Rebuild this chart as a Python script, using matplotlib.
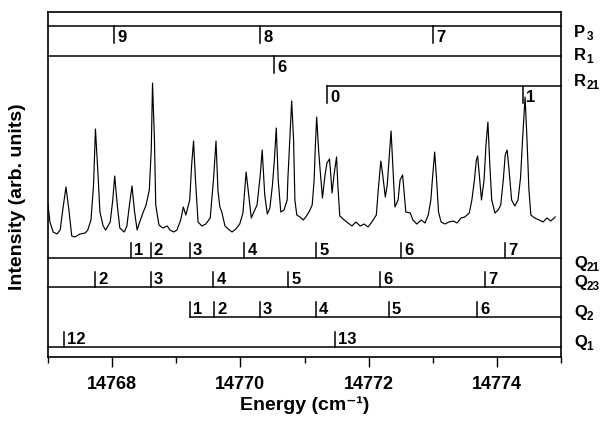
import matplotlib.pyplot as plt

plt.rcParams['font.family'] = ['Liberation Sans', 'DejaVu Sans']
plt.rcParams['font.weight'] = 'bold'

# spectrum trace (energy in cm-1, intensity arb.)
energy = [
    14767.00, 14767.03, 14767.08, 14767.14, 14767.19, 14767.23, 14767.28, 14767.33,
    14767.37, 14767.42, 14767.50, 14767.58, 14767.62, 14767.67, 14767.71, 14767.74,
    14767.78, 14767.81, 14767.86, 14767.90, 14767.97, 14768.01, 14768.04, 14768.08,
    14768.12, 14768.19, 14768.23, 14768.27, 14768.31, 14768.35, 14768.39, 14768.43,
    14768.48, 14768.53, 14768.58, 14768.61, 14768.63, 14768.66, 14768.68, 14768.73,
    14768.79, 14768.86, 14768.90, 14768.96, 14769.01, 14769.07, 14769.11, 14769.15,
    14769.21, 14769.24, 14769.27, 14769.30, 14769.34, 14769.40, 14769.46, 14769.53,
    14769.58, 14769.62, 14769.65, 14769.68, 14769.71, 14769.76, 14769.81, 14769.87,
    14769.93, 14769.99, 14770.04, 14770.09, 14770.13, 14770.17, 14770.21, 14770.26,
    14770.31, 14770.34, 14770.38, 14770.42, 14770.46, 14770.50, 14770.53, 14770.56,
    14770.59, 14770.63, 14770.68, 14770.73, 14770.74, 14770.77, 14770.80, 14770.83,
    14770.85, 14770.88, 14770.93, 14770.98, 14771.02, 14771.07, 14771.12, 14771.15,
    14771.17, 14771.19, 14771.22, 14771.24, 14771.28, 14771.32, 14771.35, 14771.39,
    14771.41, 14771.43, 14771.46, 14771.50, 14771.52, 14771.55, 14771.62, 14771.68,
    14771.74, 14771.80, 14771.87, 14771.93, 14771.99, 14772.05, 14772.12, 14772.15,
    14772.19, 14772.22, 14772.26, 14772.29, 14772.33, 14772.35, 14772.38, 14772.41,
    14772.46, 14772.49, 14772.53, 14772.55, 14772.58, 14772.65, 14772.69, 14772.75,
    14772.82, 14772.88, 14772.93, 14772.97, 14773.00, 14773.03, 14773.06, 14773.09,
    14773.13, 14773.19, 14773.25, 14773.32, 14773.38, 14773.44, 14773.50, 14773.57,
    14773.61, 14773.65, 14773.68, 14773.70, 14773.74, 14773.76, 14773.80, 14773.83,
    14773.86, 14773.89, 14773.92, 14773.97, 14774.02, 14774.06, 14774.10, 14774.13,
    14774.16, 14774.19, 14774.23, 14774.28, 14774.33, 14774.37, 14774.40, 14774.44,
    14774.47, 14774.50, 14774.53, 14774.59, 14774.66, 14774.72, 14774.78, 14774.84,
    14774.91,
]
intensity = [
    35, 18, 8, 6, 10, 30, 53, 28,
    4, 3, 6, 7, 10, 20, 55, 111,
    65, 28, 14, 10, 18, 40, 64, 35,
    12, 8, 14, 35, 54, 28, 10, 18,
    27, 35, 50, 90, 157, 100, 35, 15,
    12, 14, 10, 8, 10, 20, 33, 25,
    40, 75, 99, 60, 18, 14, 16, 22,
    60, 99, 50, 33, 28, 14, 11, 8,
    11, 16, 27, 68, 45, 22, 28, 35,
    65, 90, 45, 26, 32, 55, 80, 112,
    60, 28, 30, 40, 60, 100, 139, 100,
    40, 25, 23, 20, 23, 28, 35, 60,
    95, 123, 90, 73, 42, 65, 77, 81,
    65, 47, 65, 83, 55, 24, 20, 17,
    14, 18, 14, 16, 13, 18, 25, 50,
    79, 65, 43, 55, 90, 109, 70, 33,
    40, 60, 65, 50, 28, 27, 20, 16,
    20, 17, 25, 40, 65, 88, 60, 28,
    18, 16, 18, 19, 17, 22, 23, 27,
    40, 60, 80, 84, 55, 40, 60, 95,
    118, 75, 40, 27, 30, 35, 60, 85,
    90, 70, 40, 34, 40, 63, 100, 143,
    100, 50, 25, 22, 20, 18, 22, 19,
    23,
]

# assignment combs
p3_pos = [14768.03, 14770.31, 14773.00]
p3_lab = ['9', '8', '7']
r1_pos = [14770.53]
r1_lab = ['6']
r21_pos = [14771.35, 14774.40]
r21_lab = ['0', '1']
q21_pos = [14768.29, 14768.60, 14769.21, 14770.06, 14771.18, 14772.51, 14774.12]
q21_lab = ['1', '2', '3', '4', '5', '6', '7']
q23_pos = [14767.73, 14768.60, 14769.58, 14770.75, 14772.18, 14773.82]
q23_lab = ['2', '3', '4', '5', '6', '7']
q2_pos = [14769.21, 14769.59, 14770.30, 14771.18, 14772.31, 14773.69]
q2_lab = ['1', '2', '3', '4', '5', '6']
q1_pos = [14767.25, 14771.47]
q1_lab = ['12', '13']

branch_letters = ['P', 'R', 'R', 'Q', 'Q', 'Q', 'Q']
branch_subs = ['3', '1', '21', '21', '23', '2', '1']

xmin, xmax = 14767, 14775

fig = plt.figure(figsize=(6.05, 4.23), dpi=100)
ax = fig.add_axes([48 / 605, 1 - 357 / 423, 513 / 605, 345 / 423])
ax.plot(energy, intensity, color='black', lw=0.85)


def comb(y, pos, labels, down, start=None):
    x0 = xmin if start is None else start
    ax.plot([x0, xmax], [y, y], color='black', lw=1.1, clip_on=False)
    if down:
        y1, yt = y - 17, y - 11.5
    else:
        y1, yt = y + 15, y + 8
    for p, lab in zip(pos, labels):
        ax.plot([p, p], [y, y1], color='black', lw=1.1)
        ax.text(p + 0.05, yt, lab, fontsize=12, va='center', ha='left')


comb(214, p3_pos, p3_lab, True)
comb(184, r1_pos, r1_lab, True)
comb(154, r21_pos, r21_lab, True, start=r21_pos[0])
comb(-18, q21_pos, q21_lab, False)
comb(-47, q23_pos, q23_lab, False)
comb(-77, q2_pos, q2_lab, False, start=q2_pos[0])
comb(-107, q1_pos, q1_lab, False)

# branch names on the right
name_y = [207.5, 184.5, 158.5, -23.5, -42, -72, -102]
tr = ax.get_yaxis_transform()
for let, sub, yy in zip(branch_letters, branch_subs, name_y):
    ax.text(1.026, yy, let, transform=tr, fontsize=12, va='center', ha='left')
    ax.text(1.050, yy - 4.5, sub, transform=tr, fontsize=8.5, va='center', ha='left')

ax.set_xlim(xmin, xmax)
ax.set_ylim(-117, 228)
ax.set_yticks([])
ax.set_xticks([14768, 14770, 14772, 14774])
ax.set_xticks([14767, 14769, 14771, 14773, 14775], minor=True)
ax.tick_params(axis='x', which='major', length=7, width=1, direction='out',
               labelsize=13, pad=7)
ax.tick_params(axis='x', which='minor', length=4.5, width=1, direction='out')
for lab in ax.get_xticklabels():
    lab.set_fontweight('bold')
for s in ax.spines.values():
    s.set_linewidth(1.2)

fig.text(304.5 / 605, 1 - 405 / 423, 'Energy (cm\u207b\u00b9)', fontsize=14,
         ha='center', va='center')
fig.text(18 / 605, 1 - 197 / 423, 'Intensity (arb. units)', fontsize=14,
         rotation=90, ha='center', va='center')

fig.savefig('out.png', dpi=100)
